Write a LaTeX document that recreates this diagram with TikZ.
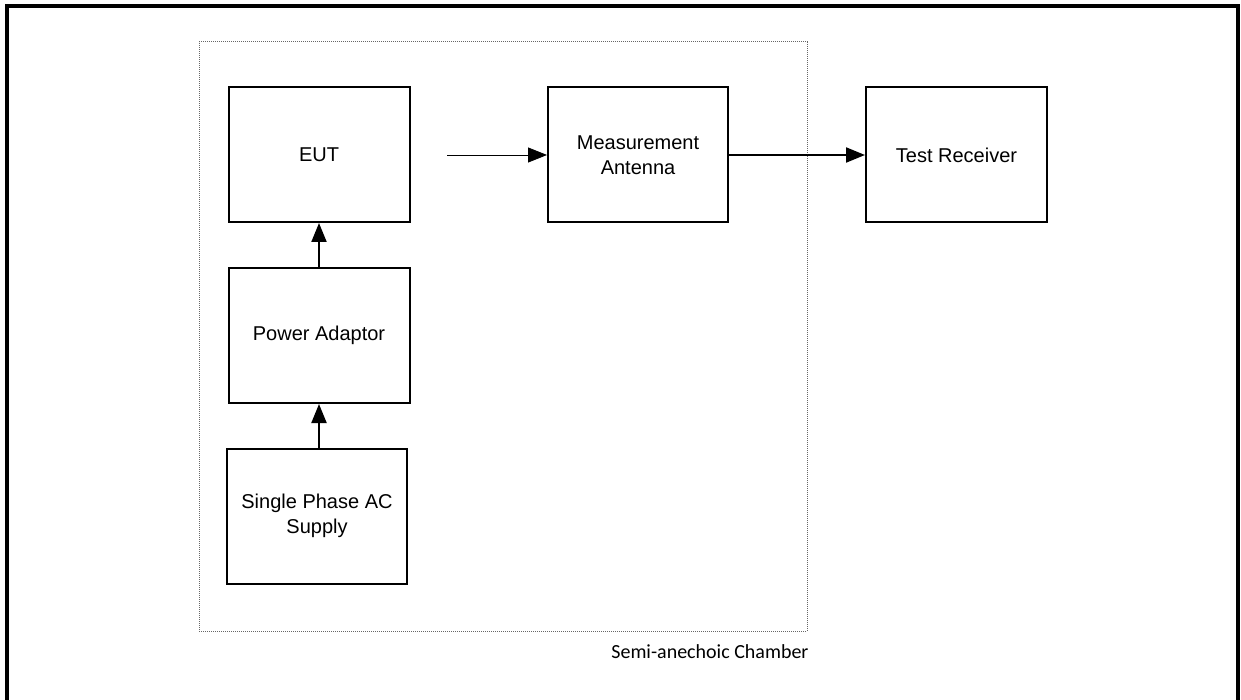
\documentclass[tikz,border=0pt]{standalone}
\usepackage{fontspec}
\setmainfont{Liberation Sans}
\newfontfamily\chamberfont{Carlito}
\usetikzlibrary{arrows.meta,positioning}

\begin{document}
\begin{tikzpicture}[
  x=1pt, y=-1pt, >={Triangle[length=19pt,width=15pt]},
  block/.style={draw, line width=2pt, minimum width=181pt, minimum height=135pt, align=center, inner sep=0pt, font=\fontsize{20}{25}\selectfont},
  link/.style={->, line width=2pt},
  thinlink/.style={->, line width=0.9pt}
]
\useasboundingbox (0,0) rectangle (1241,700);
% frame, open at the bottom
\draw[line width=4pt] (7,700) -- (7,6) -- (1238,6) -- (1238,700);

% chamber
\node[draw=black!60, dash pattern=on 1pt off 1pt, line width=1pt, minimum width=608pt, minimum height=589pt, inner sep=0pt] (chamber) at (503,336.5) {};
\node[font=\chamberfont\fontsize{20}{22}\selectfont, anchor=north east] (chamberlbl) at (812,641) {Semi-anechoic Chamber};

% blocks
\node[block] (eut)    at (319,154.5) {EUT};
\node[block] (adapt)  at (319,335.5) {Power Adaptor};
\node[block, minimum width=180pt] (supply) at (317,516) {Single Phase AC\\Supply};
\node[block, minimum width=180pt] (ant)    at (638,155) {Measurement\\Antenna};
\node[block] (rx)     at (956.5,155) {Test Receiver};
\coordinate (radiate) at (447,155);

% connectors
\draw[link] (adapt.south |- supply.north) -- (adapt.south);
\draw[link] (adapt) -- (eut);
\draw[thinlink] (radiate) -- (ant);
\draw[link] (ant) -- (rx);
\end{tikzpicture}
\end{document}
